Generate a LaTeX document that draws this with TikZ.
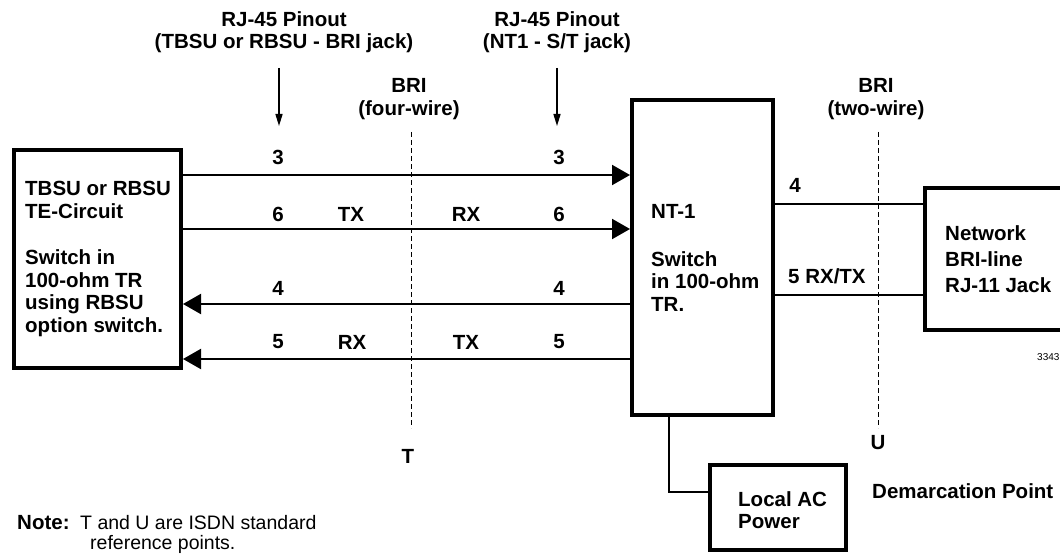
\documentclass[tikz,border=0pt]{standalone}
\usepackage{fontspec}
\setmainfont{Liberation Sans}
\usetikzlibrary{arrows.meta}
\begin{document}
\begin{tikzpicture}[x=1pt,y=-1pt,
 lbl/.style={font=\bfseries\fontsize{20.5}{22.5}\selectfont, inner sep=0pt},
 note/.style={font=\fontsize{19.5}{21}\selectfont, inner sep=0pt},
 box/.style={draw, line width=4pt, inner sep=0pt},
 wire/.style={line width=2pt},
 bigarrow/.style={wire, -{Triangle[length=18pt,width=20pt]}},
 pinarrow/.style={line width=1.5pt, -{Triangle[length=12pt,width=7pt]}},
 refline/.style={line width=1pt, dash pattern=on 5pt off 3pt},
]
\useasboundingbox (0,0) rectangle (1060,559);
\clip (0,0) rectangle (1060,559);

% boxes
\node[box, minimum width=167pt, minimum height=218pt] (te) at (97.5,259) {};
\node[box, minimum width=141pt, minimum height=315pt] (nt) at (702.5,257.5) {};
\node[box, minimum width=144pt, minimum height=142pt] (rb) at (997,259) {};
\node[box, minimum width=136pt, minimum height=85pt] (ac) at (778,507.5) {};

% box texts
\node[lbl, anchor=west, align=left] (tetxt) at (25,259) {TBSU or RBSU\\TE-Circuit\\[24pt]Switch in\\100-ohm TR\\using RBSU\\option switch.};
\node[lbl, anchor=west, align=left] (nttxt) at (651,258) {NT-1\\[25pt]Switch\\in 100-ohm\\TR.};
\node[lbl, anchor=west, align=left, font=\bfseries\fontsize{20.5}{26}\selectfont] (rbtxt) at (945,259) {Network\\BRI-line\\RJ-11 Jack};
\node[lbl, anchor=west, align=left] (actxt) at (738,510) {Local AC\\Power};

% wire levels
\coordinate (y3) at (0,175);
\coordinate (y6) at (0,229);
\coordinate (y4) at (0,304);
\coordinate (y5) at (0,359);
\coordinate (r4) at (0,204);
\coordinate (r5) at (0,295);
\coordinate (pw) at (669,492);

\draw[bigarrow] (te.east |- y3) -- (nt.west |- y3);
\draw[bigarrow] (te.east |- y6) -- (nt.west |- y6);
\draw[bigarrow] (nt.west |- y4) -- (te.east |- y4);
\draw[bigarrow] (nt.west |- y5) -- (te.east |- y5);
\draw[wire] (nt.east |- r4) -- (rb.west |- r4);
\draw[wire] (nt.east |- r5) -- (rb.west |- r5);
\draw[wire] (nt.south -| pw) -- (pw) -- (ac.west |- pw);

% wire labels
\node[lbl] (l3a) at (278,157) {3};
\node[lbl] (l3b) at (559,157) {3};
\node[lbl] (l6a) at (278,214) {6};
\node[lbl] (txa) at (351,214) {TX};
\node[lbl] (rxa) at (466,214) {RX};
\node[lbl] (l6b) at (559,214) {6};
\node[lbl] (l4a) at (278,288) {4};
\node[lbl] (l4b) at (559,288) {4};
\node[lbl] (l5a) at (278,342) {5};
\node[lbl] (rxb) at (352,342) {RX};
\node[lbl] (txb) at (466,342) {TX};
\node[lbl] (l5b) at (559,342) {5};
\node[lbl] (r4l) at (795,185) {4};
\node[lbl, anchor=west] (r5l) at (788,276) {5 RX/TX};

% top labels and pinout arrows
\node[lbl, align=center] (pin1) at (284,32) {RJ-45 Pinout\\(TBSU or RBSU - BRI jack)};
\node[lbl, align=center] (pin2) at (557,32) {RJ-45 Pinout\\(NT1 - S/T jack)};
\coordinate (p1s) at (279,68);
\coordinate (p1e) at (279,126);
\coordinate (p2s) at (557,68);
\coordinate (p2e) at (557,126);
\draw[pinarrow] (p1s) -- (p1e);
\draw[pinarrow] (p2s) -- (p2e);

\node[lbl, align=center] (bri4) at (409,99) {BRI\\(four-wire)};
\node[lbl, align=center] (bri2) at (876,99) {BRI\\(two-wire)};

% reference lines
\coordinate (ts) at (411,132);
\coordinate (tb) at (411,428);
\coordinate (us) at (878,132);
\coordinate (ub) at (878,428);
\draw[refline] (ts) -- (tb);
\draw[refline] (us) -- (ub);
\node[lbl] (tl) at (408,456) {T};
\node[lbl] (ul) at (878,443) {U};
\node[lbl, anchor=west] (demarc) at (872,491) {Demarcation Point};

% note
\node[lbl, anchor=base west] (notel) at (17,529) {Note:};
\node[note, anchor=base west] (note1) at (80,529) {T and U are ISDN standard};
\node[note, anchor=base west] (note2) at (90,549) {reference points.};

\node[font=\fontsize{10}{12}\selectfont, inner sep=0pt, anchor=west] (fig) at (1037,357) {3343};
\end{tikzpicture}
\end{document}
